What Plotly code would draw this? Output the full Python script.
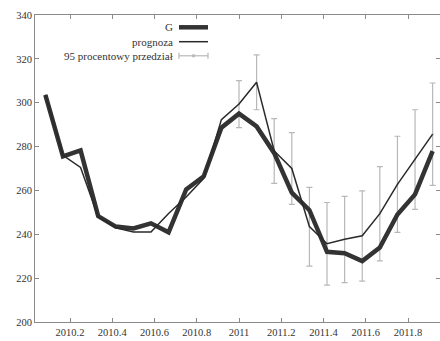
import plotly.graph_objects as go

# ---- data ----
months = list(range(1, 24))          # Feb 2010 .. Dec 2011
x_vals = [2010 + k / 12 for k in months]
G = [303.6, 275.5, 278.3, 248.3, 243.5, 242.7, 245.0, 240.9, 260.5, 266.5,
     288.6, 295.0, 289.2, 277.0, 259.0, 251.0, 232.0, 231.4, 227.8, 234.0,
     249.0, 258.2, 277.9]
prognoza = [303.6, 276.0, 270.5, 248.0, 243.0, 241.0, 241.0, 249.5, 257.0, 265.5,
            292.3, 299.4, 309.3, 278.0, 270.0, 243.5, 235.7, 237.7, 239.3, 249.4,
            262.8, 274.1, 285.7]
ci_start = 11  # index of first forecast with interval (Jan 2011)
ci_hi = [310.1, 321.8, 292.7, 286.4, 261.4, 254.5, 257.3, 259.8, 270.9, 284.7, 296.8, 309.0]
ci_lo = [288.6, 296.8, 263.2, 253.6, 225.5, 216.8, 218.0, 218.6, 227.9, 240.9, 251.4, 262.3]
x_ticks = [2010.2, 2010.4, 2010.6, 2010.8, 2011, 2011.2, 2011.4, 2011.6, 2011.8]
x_ticklabels = ["2010.2", "2010.4", "2010.6", "2010.8", "2011", "2011.2", "2011.4", "2011.6", "2011.8"]
y_ticks = [200, 220, 240, 260, 280, 300, 320, 340]
legend_labels = ["G", "prognoza", "95 procentowy przedział"]

SERIF = "Liberation Serif"
AX = "#8a8a8a"
ERR = "#b8b8b8"

fig = go.Figure()

ci_x = x_vals[ci_start:]
ci_c = prognoza[ci_start:]
fig.add_trace(go.Scatter(
    x=ci_x, y=ci_c, mode="markers",
    marker=dict(size=2, color=ERR),
    error_y=dict(type="data", symmetric=False,
                 array=[h - c for h, c in zip(ci_hi, ci_c)],
                 arrayminus=[c - l for c, l in zip(ci_c, ci_lo)],
                 color=ERR, thickness=1.2, width=3),
    showlegend=False, hoverinfo="skip"))

fig.add_trace(go.Scatter(x=x_vals, y=G, mode="lines",
                         line=dict(color="#333333", width=4.5),
                         showlegend=False))
fig.add_trace(go.Scatter(x=x_vals, y=prognoza, mode="lines",
                         line=dict(color="#2a2a2a", width=1.5),
                         showlegend=False))

# ---- manual legend (text right, sample right of text) ----
W, H = 440, 341
L, T, B, R = 35, 15, 19, 0
pw, ph = W - L - R, H - T - B

def px(xp):
    return (xp - L) / pw

def py(yp):
    return (H - B - yp) / ph

rows = [27.3, 41.7, 55.8]
x_text = px(175)
s0, s1 = px(179), px(208)
for lab, yr in zip(legend_labels, rows):
    fig.add_annotation(x=x_text, y=py(yr), xref="paper", yref="paper",
                       text=lab, showarrow=False, xanchor="right", yanchor="middle",
                       font=dict(family=SERIF, size=11, color="#333333"))
# G sample
fig.add_shape(type="line", xref="paper", yref="paper", x0=s0, x1=s1,
              y0=py(rows[0]), y1=py(rows[0]), line=dict(color="#333333", width=4.5))
# prognoza sample
fig.add_shape(type="line", xref="paper", yref="paper", x0=s0, x1=s1,
              y0=py(rows[1]), y1=py(rows[1]), line=dict(color="#2a2a2a", width=1.5))
# interval sample
yr = rows[2]
fig.add_shape(type="line", xref="paper", yref="paper", x0=s0, x1=s1,
              y0=py(yr), y1=py(yr), line=dict(color=ERR, width=1.2))
for xc in (179, 208):
    fig.add_shape(type="line", xref="paper", yref="paper", x0=px(xc), x1=px(xc),
                  y0=py(yr - 3), y1=py(yr + 3), line=dict(color=ERR, width=1.2))
fig.add_shape(type="rect", xref="paper", yref="paper", x0=px(192.5), x1=px(194.5),
              y0=py(yr + 1), y1=py(yr - 1), line=dict(color=ERR, width=1), fillcolor=ERR)

fig.update_xaxes(range=[2010.0343, 2011.9515], tickvals=x_ticks, ticktext=x_ticklabels,
                 showline=True, linecolor=AX, linewidth=1, mirror="ticks",
                 ticks="inside", ticklen=4, tickcolor=AX, showgrid=False, zeroline=False,
                 tickfont=dict(family=SERIF, size=10.5, color="#333333"))
fig.update_yaxes(range=[200, 340], tickvals=y_ticks,
                 showline=True, linecolor=AX, linewidth=1, mirror="ticks",
                 ticks="inside", ticklen=4, tickcolor=AX, showgrid=False, zeroline=False,
                 tickfont=dict(family=SERIF, size=10.5, color="#333333"))

fig.update_layout(width=W, height=H, margin=dict(l=L, r=R, t=T, b=B),
                  plot_bgcolor="white", paper_bgcolor="white", showlegend=False)

fig.write_html("out.html", config={"displayModeBar": False},
               post_script="document.body.style.margin='0';document.body.style.overflow='hidden';")
